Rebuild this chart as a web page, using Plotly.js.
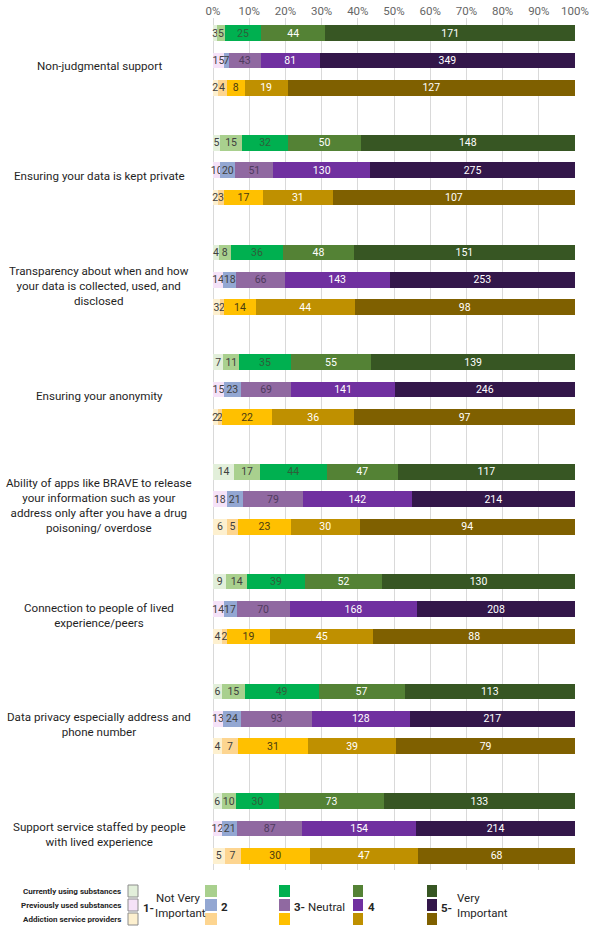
<!DOCTYPE html>
<html>
<head>
<meta charset="utf-8">
<script src="https://cdn.plot.ly/plotly-3.0.1.min.js"></script>
<style>html,body{margin:0;padding:0;background:#fff;}#chart{width:590px;height:931px;}</style>
</head>
<body>
<div id="chart"></div>
<script>
// ---------- DATA ----------
const categories = [
  "Non-judgmental support",
  "Ensuring your data is kept private",
  "Transparency about when and how<br>your data is collected, used, and<br>disclosed",
  "Ensuring your anonymity",
  "Ability of apps like BRAVE to release<br>your information such as your<br>address only after you have a drug<br>poisoning/ overdose",
  "Connection to people of lived<br>experience/peers",
  "Data privacy especially address and<br>phone number",
  "Support service staffed by people<br>with lived experience"
];
const levels = ["1- Not Very Important", "2", "3- Neutral", "4", "5- Very Important"];
const groups = ["Currently using substances", "Previously used substances", "Addiction service providers"];

// counts per category, levels 1..5
const currentlyUsing = [
  [3, 5, 25, 44, 171],
  [5, 15, 32, 50, 148],
  [4, 8, 36, 48, 151],
  [7, 11, 35, 55, 139],
  [14, 17, 44, 47, 117],
  [9, 14, 39, 52, 130],
  [6, 15, 49, 57, 113],
  [6, 10, 30, 73, 133]
];
const previouslyUsed = [
  [15, 7, 43, 81, 349],
  [10, 20, 51, 130, 275],
  [14, 18, 66, 143, 253],
  [15, 23, 69, 141, 246],
  [18, 21, 79, 142, 214],
  [14, 17, 70, 168, 208],
  [13, 24, 93, 128, 217],
  [12, 21, 87, 154, 214]
];
const serviceProviders = [
  [2, 4, 8, 19, 127],
  [2, 3, 17, 31, 107],
  [3, 2, 14, 44, 98],
  [2, 2, 22, 36, 97],
  [6, 5, 23, 30, 94],
  [4, 2, 19, 45, 88],
  [4, 7, 31, 39, 79],
  [5, 7, 30, 47, 68]
];
const xTickVals = [0, 10, 20, 30, 40, 50, 60, 70, 80, 90, 100];
const xTickText = ["0%", "10%", "20%", "30%", "40%", "50%", "60%", "70%", "80%", "90%", "100%"];

// ---------- STYLE ----------
const groupData = [currentlyUsing, previouslyUsed, serviceProviders];
const palette = [
  ["#e2efda", "#a9d08e", "#00b050", "#548235", "#375623"],
  ["#f5e2f8", "#93a7d2", "#9069a1", "#7030a0", "#33174a"],
  ["#fdf0cf", "#fdd590", "#ffc000", "#bf9000", "#7f6000"]
];
const textColors = [
  ["#404040", "#404040", "#2f5e3a", "#ffffff", "#ffffff"],
  ["#404040", "#404040", "#4f3b5e", "#ffffff", "#ffffff"],
  ["#404040", "#404040", "#4a3b10", "#ffffff", "#ffffff"]
];
const FONT = "Roboto, 'Noto Sans', sans-serif";

const traces = levels.map((lvl, k) => {
  const x = [], y = [], text = [], colors = [], tcolors = [];
  categories.forEach((c, i) => {
    groupData.forEach((gd, g) => {
      y.push(4 * i + g);
      x.push(gd[i][k]);
      text.push(String(gd[i][k]));
      colors.push(palette[g][k]);
      tcolors.push(textColors[g][k]);
    });
  });
  return {
    type: "bar", orientation: "h", name: lvl,
    x: x, y: y, text: text, texttemplate: "%{text}",
    textposition: "inside", insidetextanchor: "middle", constraintext: "none", textangle: 0,
    textfont: {family: FONT, size: 10.5, color: tcolors},
    marker: {color: colors, line: {width: 0}},
    width: 0.57, showlegend: false, hoverinfo: "skip", cliponaxis: false
  };
});

// plot area pixel geometry
const PX0 = 213, PX1 = 575, PY0 = 18, PY1 = 870;
const px = v => (v - PX0) / (PX1 - PX0);
const py = v => (PY1 - v) / (PY1 - PY0);

const annotations = [];
categories.forEach((c, i) => {
  annotations.push({
    xref: "paper", yref: "y", x: px(99), y: 4 * i + 1, yshift: -6,
    text: c, showarrow: false, xanchor: "center", yanchor: "middle", align: "center",
    font: {family: FONT, size: 11.6, color: "#1f1f1f"}
  });
});

// custom legend
const shapes = [];
const rowsY = [[885, 897], [899, 911], [913, 925]];
const colX = [[128, 138], [205, 217], [279, 290], [353, 363], [427, 437]];
colX.forEach((cx, k) => {
  rowsY.forEach((ry, g) => {
    shapes.push({
      type: "rect", xref: "paper", yref: "paper",
      x0: px(cx[0]), x1: px(cx[1]), y0: py(ry[1]), y1: py(ry[0]),
      fillcolor: palette[g][k],
      line: k === 0 ? {color: "#8c8c8c", width: 1} : {width: 0}
    });
  });
});
groups.forEach((g, i) => {
  annotations.push({
    xref: "paper", yref: "paper", x: px(123), y: py(891 + 14 * i),
    text: "<b>" + g + "</b>", showarrow: false, xanchor: "right", yanchor: "middle",
    font: {family: FONT, size: 8, color: "#262626"}
  });
});
const legText = [
  {x: 141, y: 908, t: "<b>1-</b>", s: 11.5},
  {x: 154, y: 898, t: "Not Very", s: 11.5},
  {x: 153, y: 913, t: "Important", s: 11.5},
  {x: 219, y: 907, t: "<b>2</b>", s: 11.5},
  {x: 292, y: 907, t: "<b>3-</b> Neutral", s: 11.5},
  {x: 366, y: 907, t: "<b>4</b>", s: 11.5},
  {x: 439, y: 908, t: "<b>5-</b>", s: 11.5},
  {x: 455, y: 898, t: "Very", s: 11.5},
  {x: 455, y: 913, t: "Important", s: 11.5}
];
legText.forEach(o => {
  annotations.push({
    xref: "paper", yref: "paper", x: px(o.x), y: py(o.y), text: o.t,
    showarrow: false, xanchor: "left", yanchor: "middle",
    font: {family: FONT, size: o.s, color: "#262626"}
  });
});

const layout = {
  width: 590, height: 931,
  margin: {l: PX0, r: 590 - PX1, t: PY0, b: 931 - PY1, pad: 0},
  paper_bgcolor: "#ffffff", plot_bgcolor: "#ffffff",
  barmode: "stack", barnorm: "percent",
  showlegend: false,
  xaxis: {
    side: "top", range: [0, 100], tickvals: xTickVals, ticktext: xTickText,
    showgrid: true, gridcolor: "#d9d9d9", gridwidth: 1,
    zeroline: true, zerolinecolor: "#d9d9d9", zerolinewidth: 1,
    showline: false, ticks: "",
    tickfont: {family: FONT, size: 11.5, color: "#666666"}, fixedrange: true
  },
  yaxis: {
    range: [(PY1 - 33) / 27.43, (PY0 - 33) / 27.43],
    showticklabels: false, showgrid: false, zeroline: false, showline: false, ticks: "",
    fixedrange: true
  },
  annotations: annotations,
  shapes: shapes,
  hovermode: false
};

Plotly.newPlot("chart", traces, layout, {staticPlot: true, displayModeBar: false});
</script>
</body>
</html>
